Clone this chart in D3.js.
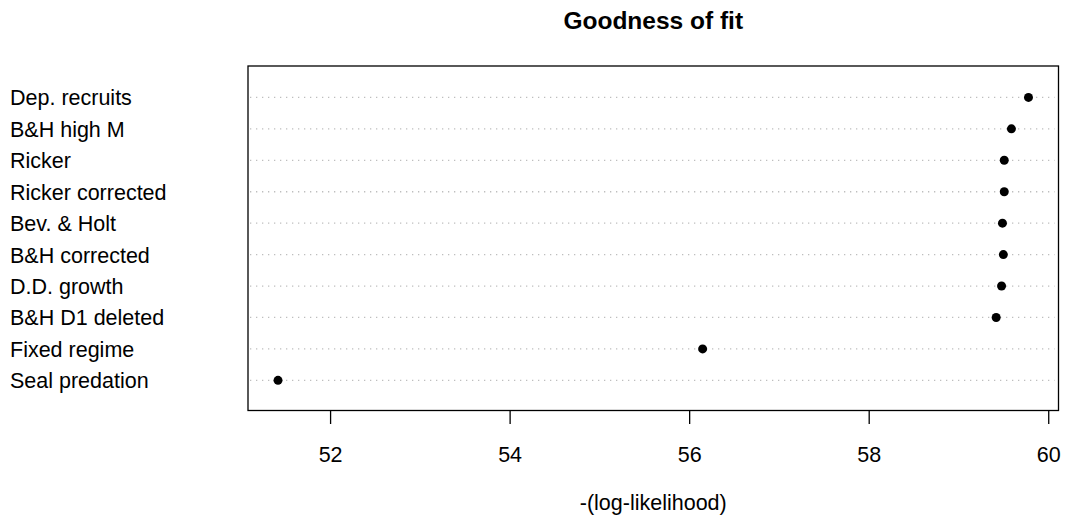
<!DOCTYPE html>
<html>
<head>
<meta charset="utf-8">
<script src="https://cdn.jsdelivr.net/npm/d3@7"></script>
<style>
  html, body { margin: 0; padding: 0; background: #fff; }
  text { font-family: "Liberation Sans", Arial, Helvetica, sans-serif; fill: #000; }
</style>
</head>
<body>
<svg id="chart" width="1065" height="521"></svg>
<script>
const categories = ["Dep. recruits", "B&H high M", "Ricker", "Ricker corrected", "Bev. & Holt",
                    "B&H corrected", "D.D. growth", "B&H D1 deleted", "Fixed regime", "Seal predation"];
const values = [59.78, 59.59, 59.51, 59.51, 59.49, 59.50, 59.48, 59.42, 56.15, 51.42];
const xTicks = [52, 54, 56, 58, 60];
const titleText = "Goodness of fit";
const xLabel = "-(log-likelihood)";

const svg = d3.select("#chart");
const box = { left: 248, right: 1058.5, top: 66, bottom: 410.5 };

const ext = d3.extent(values);
const pad = (ext[1] - ext[0]) * 0.04;
const x = d3.scaleLinear().domain([ext[0] - pad, ext[1] + pad]).range([box.left, box.right]);
const n = categories.length;
const y = d3.scaleLinear().domain([0.04, n + 1.0]).range([box.bottom, box.top]);
const rowY = (i) => y(n - i);

// dotted guide lines
svg.append("g").selectAll("line").data(categories).join("line")
  .attr("x1", box.left + 2).attr("x2", box.right - 4)
  .attr("y1", (d, i) => rowY(i)).attr("y2", (d, i) => rowY(i))
  .attr("stroke", "#bebebe").attr("stroke-width", 1.3)
  .attr("stroke-dasharray", "1.3 4.7");

// points
svg.append("g").selectAll("circle").data(values).join("circle")
  .attr("cx", d => x(d)).attr("cy", (d, i) => rowY(i))
  .attr("r", 4.5).attr("fill", "#000");

// row labels
svg.append("g").selectAll("text").data(categories).join("text")
  .attr("x", 10).attr("y", (d, i) => rowY(i) + 8)
  .attr("font-size", 21.5)
  .text(d => d);

// box
svg.append("rect")
  .attr("x", box.left).attr("y", box.top)
  .attr("width", box.right - box.left).attr("height", box.bottom - box.top)
  .attr("fill", "none").attr("stroke", "#000").attr("stroke-width", 1.3);

// x axis
const axis = d3.axisBottom(x).tickValues(xTicks).tickSize(13.5).tickFormat(d3.format("d"));
const gx = svg.append("g").attr("transform", `translate(0,${box.bottom})`).call(axis);
gx.select(".domain").remove();
gx.selectAll(".tick line").attr("stroke", "#000").attr("stroke-width", 1.3);
gx.selectAll(".tick text").attr("font-size", 21.5).attr("font-family", "Liberation Sans, Arial, sans-serif")
  .attr("fill", "#000").attr("dy", null).attr("y", 51.5);

// title
svg.append("text")
  .attr("x", (box.left + box.right) / 2).attr("y", 29)
  .attr("text-anchor", "middle").attr("font-size", 24.5).attr("font-weight", "bold")
  .text(titleText);

// x label
svg.append("text")
  .attr("x", (box.left + box.right) / 2).attr("y", 510)
  .attr("text-anchor", "middle").attr("font-size", 21.5)
  .text(xLabel);
</script>
</body>
</html>
